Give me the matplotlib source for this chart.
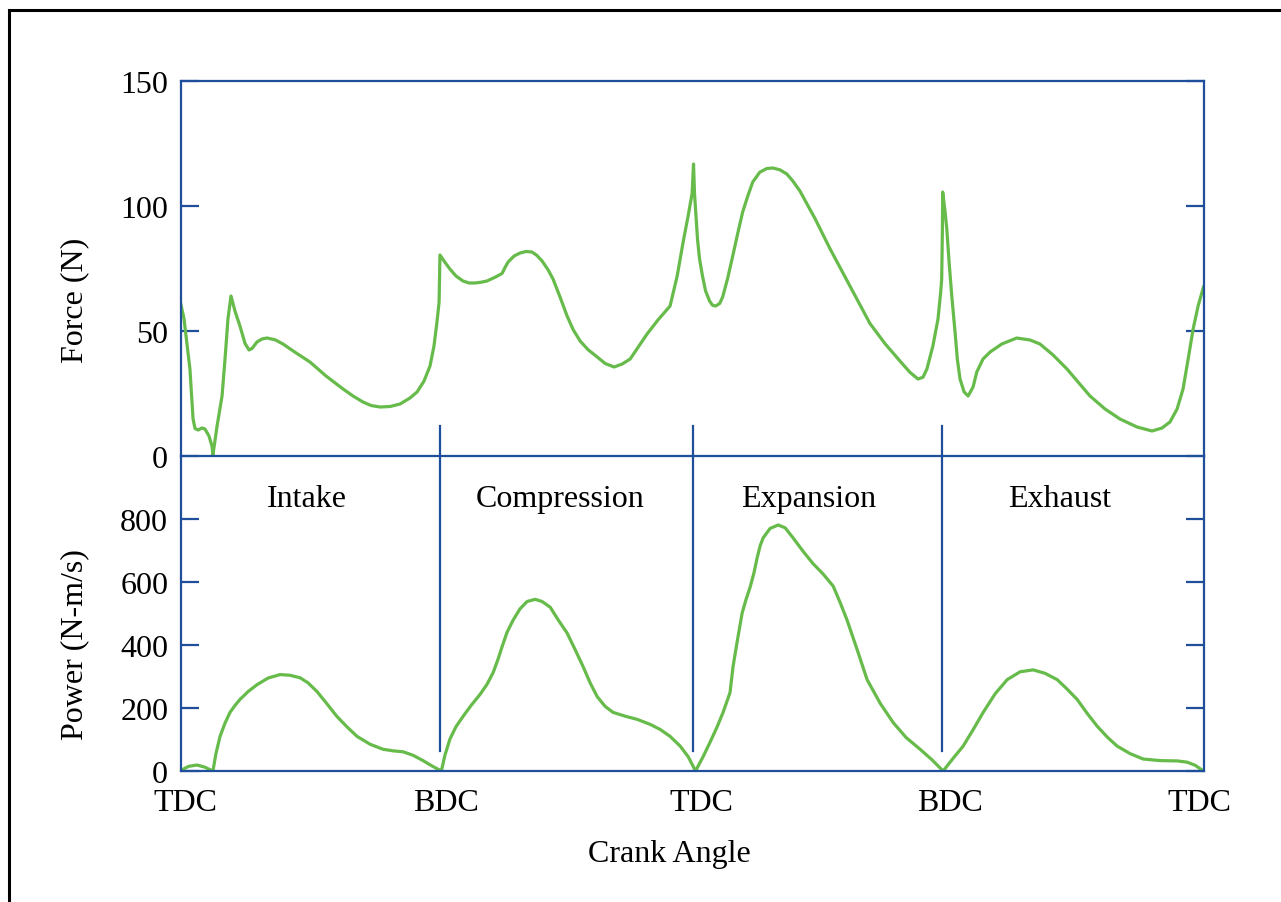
import matplotlib
matplotlib.use("Agg")
import matplotlib.pyplot as plt
from matplotlib.patches import Rectangle

plt.rcParams['font.family'] = ['Liberation Serif', 'DejaVu Serif']

BLUE = '#1f4e9a'
GREEN = '#66bb4a'

# crank angle (deg) and force (N)
force_angle = [0, 2.3, 4.4, 6.5, 7.9, 8.7, 10.1, 12.2, 15.0, 17.1, 19.9, 22.0, 22.7, 25.6,
               29.1, 31.2, 33.3, 35.4, 38.2, 41.7, 45.3, 48.1, 50.2, 53.7, 57.2, 60.7,
               66.4, 72.0, 80.5, 91.0, 102.3, 114.3, 121.3, 128.3, 134.0, 140.3, 147.4,
               154.4, 161.4, 166.4, 171.3, 175.5, 178.3, 180.4, 181.9,
               182.5, 186.0, 189.5, 193.8, 198.7, 203.0, 207.2, 211.4, 215.6, 221.3,
               226.2, 228.4, 230.5, 234.7, 238.9, 243.1, 247.3, 250.8, 254.4, 258.6,
               262.1, 267.1, 272.0, 276.3, 281.2, 286.8, 293.2, 298.8, 305.1, 310.8,
               316.4, 322.0, 328.3, 336.1, 344.5, 349.5, 353.7, 357.2, 360.0, 361.0,
               361.7, 363.1, 363.8, 365.2, 367.3, 369.5, 372.3, 374.4, 376.6, 379.4,
               381.5, 385.0, 388.6, 392.1, 395.6, 399.2, 402.7, 407.6, 412.6, 416.8,
               421.7, 426.7, 430.9, 435.9, 446.5, 457.0, 471.1, 485.2, 495.7, 506.3,
               513.3, 519.0, 522.5, 525.3, 529.5, 533.1, 535.0, 535.7, 536.2, 536.4,
               538.1, 539.3, 540.9, 542.8, 545.1, 546.7, 548.6, 551.5, 554.3, 557.8,
               560.4, 564.8, 569.8, 578.0, 588.5, 597.9, 604.9, 614.1, 623.9, 631.7,
               640.1, 650.7, 661.2, 673.2, 683.8, 690.8, 696.4, 701.4, 705.6, 709.2,
               712.7, 716.2, 720]
force = [61, 55, 45, 34.8, 22, 14.8, 11, 10.4, 11.2, 10.8, 8, 4, 0.5, 12,
         24, 38.8, 55, 64, 58, 52, 45, 42.4, 43, 45.6, 46.8, 47.2,
         46.5, 44.8, 41.5, 37.6, 32, 26.8, 24, 21.6, 20.2, 19.6, 19.8,
         20.8, 23.2, 25.6, 30, 36, 44, 53.6, 61.6,
         80.4, 77.5, 74.8, 72, 70, 69.2, 69.2, 69.5, 70, 71.5,
         73, 75.5, 77.6, 80, 81.2, 81.8, 81.6, 80.2, 78, 74.5,
         70.8, 63.5, 56, 50.5, 46, 42.5, 39.6, 37, 35.6, 36.8,
         38.8, 43.5, 48.8, 54.5, 60, 72, 85.6, 96, 105, 116.8,
         105, 93, 86.8, 79, 72, 66, 62, 60.3, 60, 61,
         63.6, 71, 80, 89, 97.6, 104, 109.6, 113.5, 115, 115.2,
         114.5, 112.8, 110, 106, 95, 83, 68, 53, 45, 38,
         33.5, 30.8, 31.5, 34.8, 44, 54.8, 65.6, 70.8, 90.8, 105.6,
         97.6, 90.8, 77.6, 64, 49.6, 38.8, 30.8, 25.6, 24, 27.6,
         33.6, 38.8, 41.6, 44.8, 47.2, 46.4, 44.8, 40.4, 34.8, 29.6,
         24, 18.8, 14.8, 11.6, 10, 11.2, 13.6, 18.8, 26.8, 38.8,
         50.8, 60, 67.6]

# crank angle (deg) and power (N-m/s)
power_angle = [0, 3.0, 5.8, 11.5, 17.1, 20.7, 22.7, 24.8, 27.7, 31.2, 34.7, 38.2, 41.7,
               47.4, 53.7, 61.5, 69.9, 76.9, 84.0, 89.6, 96.0, 103.0, 110.0, 117.1,
               124.1, 133.3, 142.4, 149.5, 156.5, 163.5, 170.6, 176.9, 183.5,
               186.0, 189.5, 193.7, 198.7, 204.4, 210.7, 215.6, 219.9, 223.4, 226.2,
               229.7, 234.0, 238.9, 243.8, 249.5, 254.4, 260.1, 265.7, 272.0, 277.7,
               283.3, 288.2, 293.2, 298.8, 304.4, 312.9, 321.3, 330.5, 337.5, 344.5,
               351.6, 357.3, 362.4,
               367.7, 372.6, 377.6, 381.8, 386.7, 388.8, 391.7, 395.2, 398.0, 400.8,
               403.6, 405.8, 407.9, 410.0, 414.9, 420.6, 425.5, 431.1, 438.2, 445.2,
               452.3, 459.3, 464.2, 469.1, 476.2, 483.2, 492.4, 501.5, 510.7, 520.5,
               529.0, 536.7,
               543.7, 550.8, 557.8, 564.9, 573.3, 581.8, 590.9, 600.1, 608.5, 617.0,
               624.0, 631.1, 638.1, 645.2, 652.2, 659.2, 668.4, 677.5, 689.5, 701.5,
               708.5, 714.2, 720]
power = [0, 9, 15, 19, 12, 4, 0, 55, 110, 152, 186, 208, 227,
         252, 274, 295, 306, 304, 296, 280, 252, 213, 173, 140,
         110, 85, 69, 64, 61, 50, 33, 16, 0,
         50, 101, 140, 173, 208, 243, 275, 312, 355, 394,
         440, 479, 515, 538, 545, 538, 520, 480, 438, 385,
         331, 280, 236, 205, 186, 174, 164, 148, 132, 110,
         79, 45, 0,
         45, 91, 140, 186, 249, 331, 410, 501, 545, 583,
         630, 677, 715, 740, 770, 781, 772, 740, 697, 658,
         625, 587, 535, 479, 385, 290, 215, 154, 106, 69,
         35, 0,
         40, 79, 131, 186, 245, 290, 315, 321, 310, 290,
         260, 227, 183, 142, 108, 79, 55, 38, 33, 32,
         28, 18, 0]

dividers = [182.5, 360.8, 535.7]
tick_pos = [3.0, 186.8, 366.3, 541.5, 716.8]
tick_labels = ['TDC', 'BDC', 'TDC', 'BDC', 'TDC']
strokes = ['Intake', 'Compression', 'Expansion', 'Exhaust']
stroke_pos = [88.9, 267.0, 441.7, 618.4]

fig = plt.figure(figsize=(12.81, 9.03), dpi=100)
left, width = 180.7 / 1281, 1022.8 / 1281
ax2 = fig.add_axes([left, 1 - 772 / 903, width, 315 / 903])
ax1 = fig.add_axes([left, 1 - 457 / 903, width, 375 / 903])
ax1.patch.set_alpha(0)

fig.patches.append(Rectangle((9 / 1281, -0.1), 1.2, 1 - 10.5 / 903 + 0.1,
                             transform=fig.transFigure, fill=False,
                             edgecolor='black', linewidth=2.2))

ax1.plot(force_angle, force, color=GREEN, lw=2.3, solid_joinstyle='round')
ax2.plot(power_angle, power, color=GREEN, lw=2.3, solid_joinstyle='round')

ax1.set_xlim(0, 720)
ax2.set_xlim(0, 720)
ax1.set_ylim(0, 150)
ax2.set_ylim(0, 1000)
ax1.set_yticks([0, 50, 100, 150])
ax2.set_yticks([0, 200, 400, 600, 800])
ax1.set_xticks([])
ax2.set_xticks(tick_pos)
ax2.set_xticklabels(tick_labels)

for ax in (ax1, ax2):
    for s in ax.spines.values():
        s.set_color(BLUE)
        s.set_linewidth(1.6)
    ax.tick_params(axis='y', direction='in', length=13, width=1.6, color=BLUE,
                   left=True, right=True, labelsize=23, pad=9)
    ax.tick_params(axis='x', length=0, labelsize=23, pad=12)
ax2.spines['top'].set_visible(False)

for d in dividers:
    ax1.axvline(d, ymin=0, ymax=12 / 150, color=BLUE, lw=1.6, clip_on=False)
    ax2.axvline(d, ymin=63 / 1000, ymax=1, color=BLUE, lw=1.6, clip_on=False)

for name, x in zip(strokes, stroke_pos):
    ax2.text(x, 866, name, ha='center', va='center', fontsize=23)

fig.text(75 / 1281, 1 - 300 / 903, 'Force (N)', rotation=90, ha='center', va='center', fontsize=23)
fig.text(75 / 1281, 1 - 645 / 903, 'Power (N-m/s)', rotation=90, ha='center', va='center', fontsize=23)
fig.text(669 / 1281, 1 - 855 / 903, 'Crank Angle', ha='center', va='center', fontsize=23)

fig.savefig('out.png', dpi=100)
